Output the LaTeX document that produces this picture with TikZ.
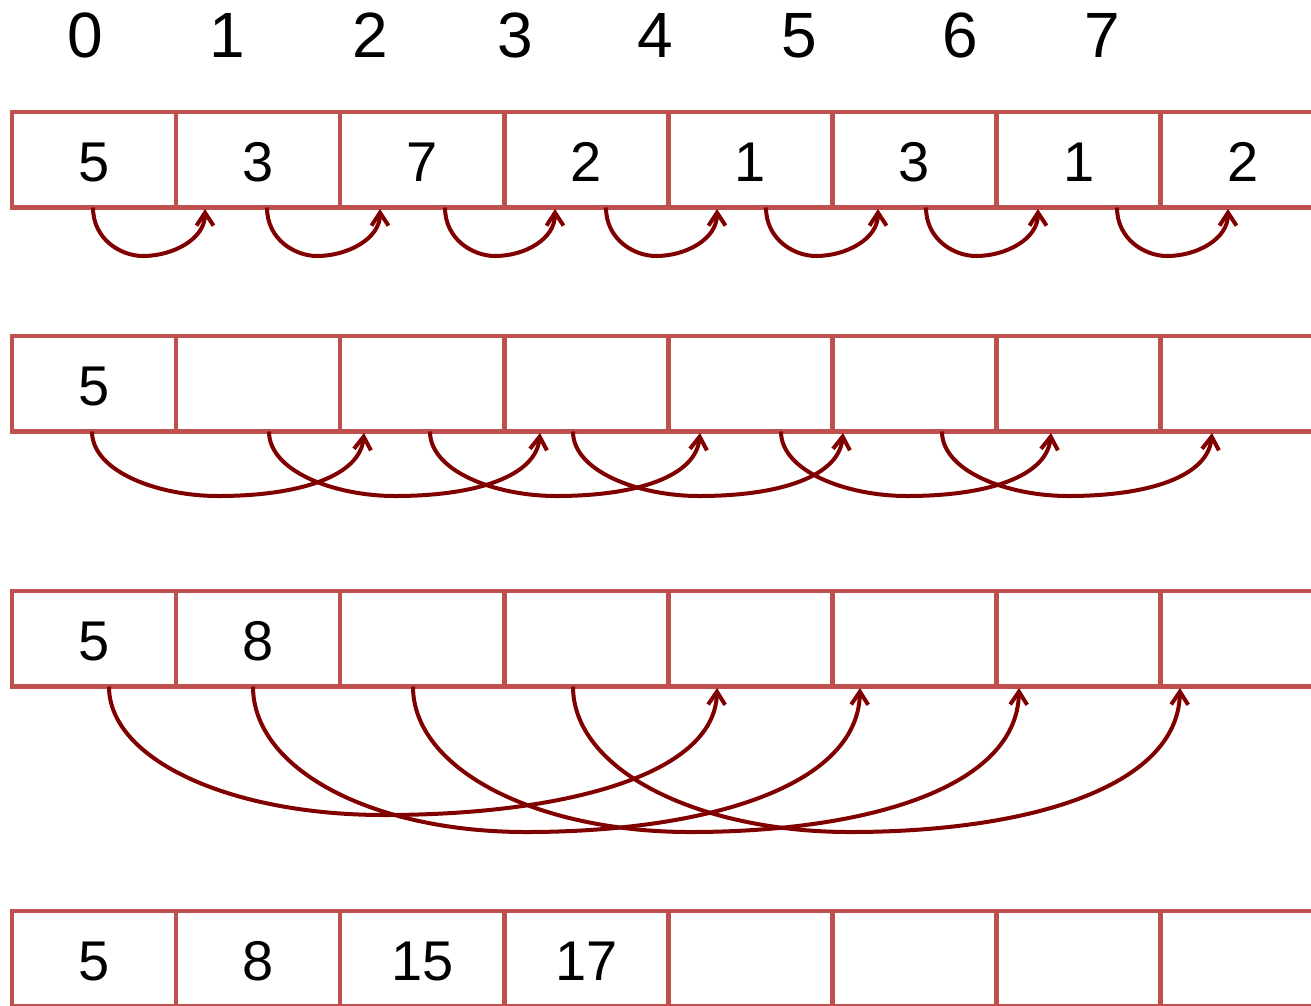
\documentclass[tikz,border=0pt]{standalone}
\usepackage{fontspec}
\setmainfont{Liberation Sans}
\usetikzlibrary{arrows.meta}
\definecolor{boxred}{RGB}{192,80,77}
\definecolor{arrred}{RGB}{128,0,0}
\tikzset{
  cell/.style={draw=boxred, line width=4.5pt, minimum width=164.1pt, minimum height=95.5pt,
    anchor=north west, inner sep=0pt, outer sep=0pt,
    font=\fontsize{56}{60}\selectfont, text height=44pt, text depth=0pt},
  idx/.style={anchor=base, inner sep=0pt, font=\fontsize{64}{70}\selectfont},
  conn/.style={draw=arrred, line width=4pt, -{Straight Barb[length=13pt,width=17pt]}},
}
\begin{document}
\begin{tikzpicture}[x=1pt, y=-1pt]
\useasboundingbox (0,0) rectangle (1311,1005);
\clip (0,0) rectangle (1311,1005);
% index labels
\foreach \t/\x [count=\k from 0] in {0/85,1/227,2/370,3/515,4/655,5/799,6/960,7/1102}
  \node[idx] (i\k) at (\x,57) {\t};
% rows of cells
\foreach \v [count=\k from 0] in {5,3,7,2,1,3,1,2}
  \node[cell] (ra\k) at ({12+164.1*\k},112) {\v};
\foreach \v [count=\k from 0] in {5,{},{},{},{},{},{},{}}
  \node[cell] (rb\k) at ({12+164.1*\k},336) {\v};
\foreach \v [count=\k from 0] in {5,8,{},{},{},{},{},{}}
  \node[cell] (rc\k) at ({12+164.1*\k},591) {\v};
\foreach \v [count=\k from 0] in {5,8,15,17,{},{},{},{}}
  \node[cell] (rd\k) at ({12+164.1*\k},911) {\v};
% row 1 connectors
\foreach \s/\e [count=\k] in {93/205,267/380,445/555,606/717,766/878,926/1038,1117/1228}{
  \coordinate (as\k) at (\s,207.5);
  \coordinate (ab\k) at ({\s+50},256);
  \coordinate (ae\k) at (\e,209);
  \draw[conn] (as\k) .. controls +(0,32) and +(-22,0) .. (ab\k)
                     .. controls +(30,0) and +(0,30) .. (ae\k);
}
% row 2 connectors
\foreach \s/\e [count=\k] in {92/364,269/540,430/700,573/843,781/1051,942/1212}{
  \coordinate (bs\k) at (\s,431.5);
  \coordinate (bb\k) at ({\s+126},496);
  \coordinate (be\k) at (\e,433);
  \draw[conn] (bs\k) .. controls +(0,40) and +(-60,0) .. (bb\k)
                     .. controls +(82,0) and +(-4,43) .. (be\k);
}
% row 3 connectors
\foreach \s/\b/\d/\e [count=\k] in {109/384/815/717,253/526/832/860,413/690/832/1019,573/850/832/1180}{
  \coordinate (cs\k) at (\s,686.5);
  \coordinate (cb\k) at (\b,\d);
  \coordinate (ce\k) at (\e,688);
  \draw[conn] (cs\k) .. controls +(0,{0.57*(\d-687)}) and +(-154,0) .. (cb\k)
                     .. controls +(176,0) and +(-2,{0.69*(\d-687)}) .. (ce\k);
}
\end{tikzpicture}
\end{document}
